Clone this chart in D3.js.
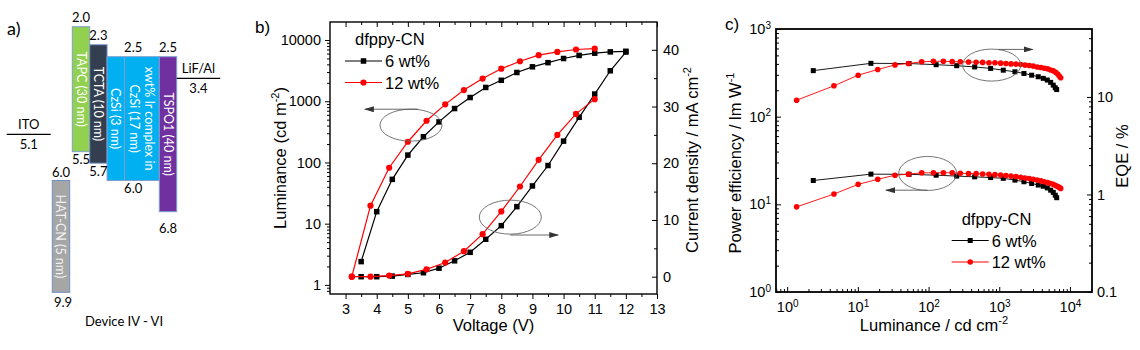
<!DOCTYPE html>
<html>
<head>
<meta charset="utf-8">
<script src="https://cdn.jsdelivr.net/npm/d3@7"></script>
<style>
  body { margin: 0; background: #fff; }
</style>
</head>
<body>
<div id="chart"></div>
<script>
// ---- panel a: energy level diagram ----
const aLayers = ["TAPC (30 nm)", "TCTA (10 nm)", "CzSi (3 nm)", "xwt% Ir complex in|CzSi (17 nm)", "TSPO1 (40 nm)"];
const aLumo = [2.0, 2.3, 2.5, 2.5, 2.5];
const aHomo = [5.5, 5.7, 6.0, 6.0, 6.8];
const aUnits = [1, 1, 1, 2, 1];
const aLabelGroup = [0, 1, 2, 2, 3];
const aColors = ["#92d050", "#333f50", "#00b0f0", "#00b0f0", "#7030a0"];
const hilName = "HAT-CN (5 nm)", hilLumo = 6.0, hilHomo = 9.9;
const anodeName = "ITO", anodeLevel = 5.1;
const cathodeName = "LiF/Al", cathodeLevel = 3.4;

// ---- panel b: luminance / current density vs voltage ----
const voltage6 = [3.5, 4.0, 4.5, 5.0, 5.5, 6.0, 6.5, 7.0, 7.5, 8.0, 8.5, 9.0, 9.5, 10.0, 10.5, 11.0, 11.5, 12.0];
const lum6 = [2.4, 15.7, 53, 132, 263, 460, 760, 1150, 1680, 2200, 2950, 3650, 4270, 4990, 5600, 6100, 6400, 6550];
const cur6 = [0, 0, 0.1, 0.4, 0.7, 1.5, 2.8, 4.3, 6.6, 9.0, 12.35, 16.0, 19.6, 23.9, 28.1, 32.2, 36.3, 39.6];
const voltage12 = [3.2, 3.8, 4.4, 5.0, 5.6, 6.2, 6.8, 7.4, 8.0, 8.6, 9.2, 9.8, 10.4, 11.0];
const lum12 = [1.36, 19.7, 82, 218, 480, 890, 1520, 2350, 3400, 4500, 5650, 6400, 7000, 7250];
const cur12 = [0, 0, 0.2, 0.5, 1.3, 2.5, 4.5, 7.5, 11.5, 15.9, 20.6, 25.0, 28.7, 31.3];
const bVoltTicks = [3, 4, 5, 6, 7, 8, 9, 10, 11, 12, 13];
const bVoltMinor = [3.5, 4.5, 5.5, 6.5, 7.5, 8.5, 9.5, 10.5, 11.5, 12.5];
const bLumTicks = [1, 10, 100, 1000, 10000];
const bCurTicks = [0, 10, 20, 30, 40];
const bCurMinor = [5, 15, 25, 35];

// ---- panel c: power efficiency / EQE vs luminance ----
const cLum6 = [2.34, 15.3, 53, 128, 250, 449, 755, 1140, 1667, 2235, 2873, 3560, 4190, 4775, 5335, 5805, 6200, 6490];
const cEqe6 = [18.6, 22.1, 22.0, 21.4, 20.9, 20.3, 19.6, 18.8, 18.1, 17.4, 16.7, 16.1, 15.5, 14.9, 14.1, 13.2, 12.4, 11.9];
const cPe6 = [18.7, 22.1, 22.0, 21.5, 21.0, 20.6, 20.2, 19.8, 18.9, 18.1, 17.3, 16.6, 16.1, 15.4, 14.5, 13.7, 12.7, 11.9];
const cLum12 = [1.36, 4.59, 10.1, 19.1, 33.5, 52, 80, 117, 162, 216, 281, 368, 471, 582, 715, 869, 1047, 1244, 1465, 1723,
  2009, 2311, 2656, 3027, 3450, 3890, 4333, 4842, 5335, 5806, 6280, 6700, 7060, 7390];
const cEqe12 = [9.25, 13.0, 16.7, 19.1, 21.3, 22.0, 22.9, 23.2, 23.2, 23.0, 22.9, 22.8, 22.7, 22.6, 22.4, 22.4, 22.2, 22.0, 21.8, 21.7,
  21.5, 21.2, 21.0, 20.7, 20.3, 20.0, 19.7, 19.4, 18.9, 18.5, 17.9, 17.2, 16.4, 15.7];
const cPe12 = [9.36, 13.1, 16.9, 19.3, 21.5, 22.1, 22.9, 22.9, 22.9, 22.9, 22.6, 22.4, 22.4, 22.2, 22.0, 21.8, 21.6, 21.3, 21.0, 20.7,
  20.4, 20.0, 19.7, 19.3, 18.9, 18.5, 18.1, 17.7, 17.3, 16.9, 16.4, 16.0, 15.6, 15.2];
const cLumTicks = [1, 10, 100, 1000, 10000];
const cPeTicks = [1, 10, 100, 1000];
const cEqeTicks = [0.1, 1, 10];

const seriesNames = ["6 wt%", "12 wt%"];
const legendTitle = "dfppy-CN";

(function figure(){
  const width = 1140, height = 350;
  const black = "#000", red = "#ff0000";
  const tickFont = "14.5px", titleFont = "16.5px";
  const arial = "'Liberation Sans', Arial, sans-serif";

  const svg = d3.select("#chart")
    .append("svg")
    .attr("width", width)
    .attr("height", height)
    .attr("viewBox", [0, 0, width, height]);

  svg.append("defs").append("marker")
    .attr("id", "arrow")
    .attr("viewBox", "0 0 10 6")
    .attr("refX", 9).attr("refY", 3)
    .attr("markerWidth", 10).attr("markerHeight", 6)
    .attr("markerUnits", "userSpaceOnUse")
    .attr("orient", "auto")
    .append("path").attr("d", "M0,0L10,3L0,6Z").attr("fill", "#333");

  // ================= panel a =================
  const pa = svg.append("g").style("font-family", "Lato, 'Open Sans', sans-serif");
  const ey = d3.scaleLinear()
    .domain([2.0, 2.5, 3.4, 5.1, 5.5, 6.0, 6.8, 9.9])
    .range([26.7, 56.7, 78.3, 134.3, 151.7, 180.5, 211.7, 292.3]);
  const ux = d3.scaleLinear().domain([0, 6]).range([72.3, 176.7]);
  const starts = aUnits.map((u, i) => d3.sum(aUnits.slice(0, i)));

  const boxLabel = (g, cx, cy, txt, col) => {
    const lines = txt.split("|");
    const t = g.append("text")
      .attr("transform", `translate(${cx},${cy}) rotate(90)`)
      .attr("text-anchor", "middle")
      .attr("fill", col)
      .style("font-size", "12.5px");
    lines.forEach((l, k) => {
      t.append("tspan").attr("x", 0)
        .attr("y", (k - (lines.length - 1) / 2) * 15 + 4.5)
        .text(l);
    });
  };

  aLayers.forEach((name, i) => {
    const x0 = ux(starts[i]), x1 = ux(starts[i] + aUnits[i]);
    pa.append("rect")
      .attr("x", x0).attr("y", ey(aLumo[i]))
      .attr("width", x1 - x0).attr("height", ey(aHomo[i]) - ey(aLumo[i]))
      .attr("fill", aColors[i]).attr("stroke", "#7f9fcf").attr("stroke-width", 1);
    boxLabel(pa, (x0 + x1) / 2, (ey(aLumo[i]) + ey(aHomo[i])) / 2, name, "#fff");
  });

  // level numbers, one per label group
  d3.groups(aLayers.map((d, i) => i), i => aLabelGroup[i]).forEach(([, idx]) => {
    const i0 = idx[0], i1 = idx[idx.length - 1];
    const cx = (ux(starts[i0]) + ux(starts[i1] + aUnits[i1])) / 2;
    pa.append("text").attr("x", cx).attr("y", ey(aLumo[i1]) - 4.5)
      .attr("text-anchor", "middle").style("font-size", "13px").text(aLumo[i1].toFixed(1));
    pa.append("text").attr("x", cx).attr("y", ey(aHomo[i1]) + (aHomo[i1] > 6.5 ? 21 : 12.5))
      .attr("text-anchor", "middle").style("font-size", "13px").text(aHomo[i1].toFixed(1));
  });

  // hole injection layer
  const hx0 = ux(-1.15), hx1 = ux(-0.15);
  pa.append("rect")
    .attr("x", hx0).attr("y", ey(hilLumo))
    .attr("width", hx1 - hx0).attr("height", ey(hilHomo) - ey(hilLumo))
    .attr("fill", "#a6a6a6").attr("stroke", "#6f8fc7").attr("stroke-width", 1);
  boxLabel(pa, (hx0 + hx1) / 2, (ey(hilLumo) + ey(hilHomo)) / 2, hilName, "#f2f2f2");
  pa.append("text").attr("x", (hx0 + hx1) / 2).attr("y", ey(hilLumo) - 3.5)
    .attr("text-anchor", "middle").style("font-size", "13px").text(hilLumo.toFixed(1));
  pa.append("text").attr("x", (hx0 + hx1) / 2 + 2).attr("y", ey(hilHomo) + 14.5)
    .attr("text-anchor", "middle").style("font-size", "13px").text(hilHomo.toFixed(1));

  // electrodes
  [[anodeName, anodeLevel, ux(-3.77), ux(-1.24)], [cathodeName, cathodeLevel, ux(6), ux(8.5)]].forEach(([nm, lv, x0, x1]) => {
    pa.append("line").attr("x1", x0).attr("x2", x1).attr("y1", ey(lv)).attr("y2", ey(lv))
      .attr("stroke", "#000").attr("stroke-width", 1.2);
    pa.append("text").attr("x", (x0 + x1) / 2).attr("y", ey(lv) - 5.5)
      .attr("text-anchor", "middle").style("font-size", "13px").text(nm);
    pa.append("text").attr("x", (x0 + x1) / 2).attr("y", ey(lv) + 15)
      .attr("text-anchor", "middle").style("font-size", "13px").text(lv.toFixed(1));
  });

  pa.append("text").attr("x", 124).attr("y", 326).attr("text-anchor", "middle")
    .style("font-size", "13px").text("Device IV - VI");
  pa.append("text").attr("x", 7).attr("y", 35).style("font-size", "18px").text("a)");

  // ================= shared helpers =================
  const styleAxis = g => {
    g.attr("font-size", null).attr("font-family", null);
    g.select(".domain").remove();
    g.selectAll(".tick line").attr("stroke", "#000").attr("stroke-width", 1);
    g.selectAll(".tick text").style("font-size", tickFont).attr("fill", "#000");
  };
  const supLabels = g => {
    g.selectAll(".tick text").each(function(d){
      const t = d3.select(this);
      t.text(null);
      t.append("tspan").text("10");
      t.append("tspan").attr("dy", "-0.55em").style("font-size", "10px").text(Math.round(Math.log10(d)));
    });
  };
  const addSeries = (g, xs, ys, X, Y, col, shape, sz, lw) => {
    const pts = xs.map((x, i) => [X(x), Y(ys[i])]);
    g.append("path").attr("d", d3.line()(pts)).attr("fill", "none")
      .attr("stroke", col).attr("stroke-width", lw);
    if (shape === "square") {
      g.append("g").selectAll("rect").data(pts).join("rect")
        .attr("x", d => d[0] - sz / 2).attr("y", d => d[1] - sz / 2)
        .attr("width", sz).attr("height", sz).attr("fill", col);
    } else {
      g.append("g").selectAll("circle").data(pts).join("circle")
        .attr("cx", d => d[0]).attr("cy", d => d[1]).attr("r", sz / 2).attr("fill", col);
    }
  };
  const legend = (g, x, y, sq, ci) => {
    g.append("text").attr("x", x + 10).attr("y", y).style("font-size", titleFont).text(legendTitle);
    [[black, "square", sq], [red, "circle", ci]].forEach(([col, shape, sz], k) => {
      const ly = y + 16 + k * 21.5;
      g.append("line").attr("x1", x).attr("x2", x + 37).attr("y1", ly).attr("y2", ly)
        .attr("stroke", col).attr("stroke-width", 1.2);
      if (shape === "square")
        g.append("rect").attr("x", x + 18.5 - sz / 2).attr("y", ly - sz / 2).attr("width", sz).attr("height", sz).attr("fill", col);
      else
        g.append("circle").attr("cx", x + 18.5).attr("cy", ly).attr("r", sz / 2).attr("fill", col);
      g.append("text").attr("x", x + 40).attr("y", ly + 6).style("font-size", titleFont).text(seriesNames[k]);
    });
  };
  const ring = (g, cx, cy, rx, ry) => g.append("ellipse")
    .attr("cx", cx).attr("cy", cy).attr("rx", rx).attr("ry", ry)
    .attr("fill", "none").attr("stroke", "#666").attr("stroke-width", 0.9);
  const arrow = (g, x1, x2, y) => g.append("line")
    .attr("x1", x1).attr("x2", x2).attr("y1", y).attr("y2", y)
    .attr("stroke", "#555").attr("stroke-width", 0.9).attr("marker-end", "url(#arrow)");

  // ================= panel b =================
  const pb = svg.append("g").style("font-family", arial);
  const bL = 330, bR = 657, bT = 22, bB = 294;
  const xb = d3.scaleLinear().domain([2.5, 13]).range([bL, bR]);
  const yb = d3.scaleLog().domain([0.71, 19700]).range([bB, bT]);
  const yb2 = d3.scaleLinear().domain([-3.05, 44.9]).range([bB, bT]);
  const lumMinor = yb.ticks().filter(d => !bLumTicks.includes(d));

  pb.append("g").attr("transform", `translate(${bL},0)`)
    .call(d3.axisLeft(yb).tickValues(bLumTicks).tickFormat(d3.format("d")).tickSize(5).tickPadding(4)).call(styleAxis);
  pb.append("g").attr("transform", `translate(${bL},0)`)
    .call(d3.axisLeft(yb).tickValues(lumMinor).tickFormat("").tickSize(3)).call(styleAxis);
  pb.append("g").attr("transform", `translate(0,${bB})`)
    .call(d3.axisBottom(xb).tickValues(bVoltTicks).tickFormat(d3.format("d")).tickSize(5).tickPadding(5)).call(styleAxis);
  pb.append("g").attr("transform", `translate(0,${bB})`)
    .call(d3.axisBottom(xb).tickValues(bVoltMinor).tickFormat("").tickSize(3)).call(styleAxis);
  pb.append("g").attr("transform", `translate(0,${bT})`)
    .call(d3.axisTop(xb).tickValues(bVoltTicks).tickFormat("").tickSize(-5)).call(styleAxis);
  pb.append("g").attr("transform", `translate(0,${bT})`)
    .call(d3.axisTop(xb).tickValues(bVoltMinor).tickFormat("").tickSize(-3)).call(styleAxis);
  pb.append("g").attr("transform", `translate(${bR},0)`)
    .call(d3.axisRight(yb2).tickValues(bCurTicks).tickFormat(d3.format("d")).tickSize(-5).tickPadding(6)).call(styleAxis);
  pb.append("g").attr("transform", `translate(${bR},0)`)
    .call(d3.axisRight(yb2).tickValues(bCurMinor).tickFormat("").tickSize(-3)).call(styleAxis);
  pb.append("rect").attr("x", bL).attr("y", bT).attr("width", bR - bL).attr("height", bB - bT)
    .attr("fill", "none").attr("stroke", "#000").attr("stroke-width", 1.4);

  addSeries(pb, voltage6, cur6, xb, yb2, black, "square", 5.5, 1.2);
  addSeries(pb, voltage12, cur12, xb, yb2, red, "circle", 6.2, 1.2);
  addSeries(pb, voltage6, lum6, xb, yb, black, "square", 5.5, 1.2);
  addSeries(pb, voltage12, lum12, xb, yb, red, "circle", 6.2, 1.2);

  ring(pb, xb(5.1), yb(407), 31, 16);
  arrow(pb, xb(5.33), xb(3.62), yb(741));
  ring(pb, xb(8.29), yb2(10.5), 31, 17);
  arrow(pb, xb(8.29), xb(9.83), yb2(7.35));

  legend(pb, 345, 45, 5.5, 6.2);

  pb.append("text").attr("transform", `translate(286,158) rotate(-90)`).attr("text-anchor", "middle")
    .style("font-size", titleFont)
    .call(t => { t.append("tspan").text("Luminance (cd m");
      t.append("tspan").attr("dy", -7).style("font-size", "11px").text("-2");
      t.append("tspan").attr("dy", 7).text(")"); });
  pb.append("text").attr("transform", `translate(698,160) rotate(-90)`).attr("text-anchor", "middle")
    .style("font-size", titleFont)
    .call(t => { t.append("tspan").text("Current density / mA cm");
      t.append("tspan").attr("dy", -7).style("font-size", "11px").text("-2"); });
  pb.append("text").attr("x", (bL + bR) / 2).attr("y", 331).attr("text-anchor", "middle")
    .style("font-size", titleFont).text("Voltage (V)");
  pb.append("text").attr("x", 255).attr("y", 33).style("font-size", "17px").text("b)");

  // ================= panel c =================
  const pc = svg.append("g").style("font-family", arial);
  const cL = 776, cR = 1092, cT = 29, cB = 292;
  const xc = d3.scaleLog().domain([0.695, 20500]).range([cL, cR]);
  const yc = d3.scaleLog().domain([1, 1000]).range([cB, cT]);
  const yc2 = d3.scaleLog().domain([0.1, 49.7]).range([cB, cT]);
  const minorOf = (s, major) => s.ticks().filter(d => !major.some(m => Math.abs(m - d) < 1e-9));

  pc.append("g").attr("transform", `translate(${cL},0)`)
    .call(d3.axisLeft(yc).tickValues(cPeTicks).tickSize(-5).tickPadding(5)).call(styleAxis).call(supLabels);
  pc.append("g").attr("transform", `translate(${cL},0)`)
    .call(d3.axisLeft(yc).tickValues(minorOf(yc, cPeTicks)).tickFormat("").tickSize(-3)).call(styleAxis);
  pc.append("g").attr("transform", `translate(0,${cB})`)
    .call(d3.axisBottom(xc).tickValues(cLumTicks).tickSize(-5).tickPadding(10)).call(styleAxis).call(supLabels);
  pc.append("g").attr("transform", `translate(0,${cB})`)
    .call(d3.axisBottom(xc).tickValues(minorOf(xc, cLumTicks)).tickFormat("").tickSize(-3)).call(styleAxis);
  pc.append("g").attr("transform", `translate(${cR},0)`)
    .call(d3.axisRight(yc2).tickValues(cEqeTicks).tickFormat(d => String(d)).tickSize(-5).tickPadding(5)).call(styleAxis);
  pc.append("g").attr("transform", `translate(${cR},0)`)
    .call(d3.axisRight(yc2).tickValues(minorOf(yc2, cEqeTicks)).tickFormat("").tickSize(-3)).call(styleAxis);
  pc.append("rect").attr("x", cL).attr("y", cT).attr("width", cR - cL).attr("height", cB - cT)
    .attr("fill", "none").attr("stroke", "#000").attr("stroke-width", 1.8);

  addSeries(pc, cLum6, cEqe6, xc, yc2, black, "square", 5, 0.9);
  addSeries(pc, cLum12, cEqe12, xc, yc2, red, "circle", 5.6, 0.9);
  addSeries(pc, cLum6, cPe6, xc, yc, black, "square", 5, 0.9);
  addSeries(pc, cLum12, cPe12, xc, yc, red, "circle", 5.6, 0.9);

  ring(pc, xc(781), yc2(21.2), 29, 16);
  arrow(pc, xc(959), xc(2965), yc2(30.7));
  ring(pc, xc(97), yc(22.5), 29, 17);
  arrow(pc, xc(97), xc(25), yc(14.5));

  legend(pc, 951.7, 224.5, 5, 5.6);

  pc.append("text").attr("transform", `translate(741,163) rotate(-90)`).attr("text-anchor", "middle")
    .style("font-size", titleFont)
    .call(t => { t.append("tspan").text("Power efficiency / lm W");
      t.append("tspan").attr("dy", -7).style("font-size", "11px").text("-1"); });
  pc.append("text").attr("transform", `translate(1128,156) rotate(-90)`).attr("text-anchor", "middle")
    .style("font-size", titleFont).text("EQE / %");
  pc.append("text").attr("x", 934).attr("y", 331).attr("text-anchor", "middle")
    .style("font-size", titleFont)
    .call(t => { t.append("tspan").text("Luminance / cd cm");
      t.append("tspan").attr("dy", -7).style("font-size", "11px").text("-2"); });
  pc.append("text").attr("x", 725).attr("y", 30).style("font-size", "17px").text("c)");
})();
</script>
</body>
</html>
